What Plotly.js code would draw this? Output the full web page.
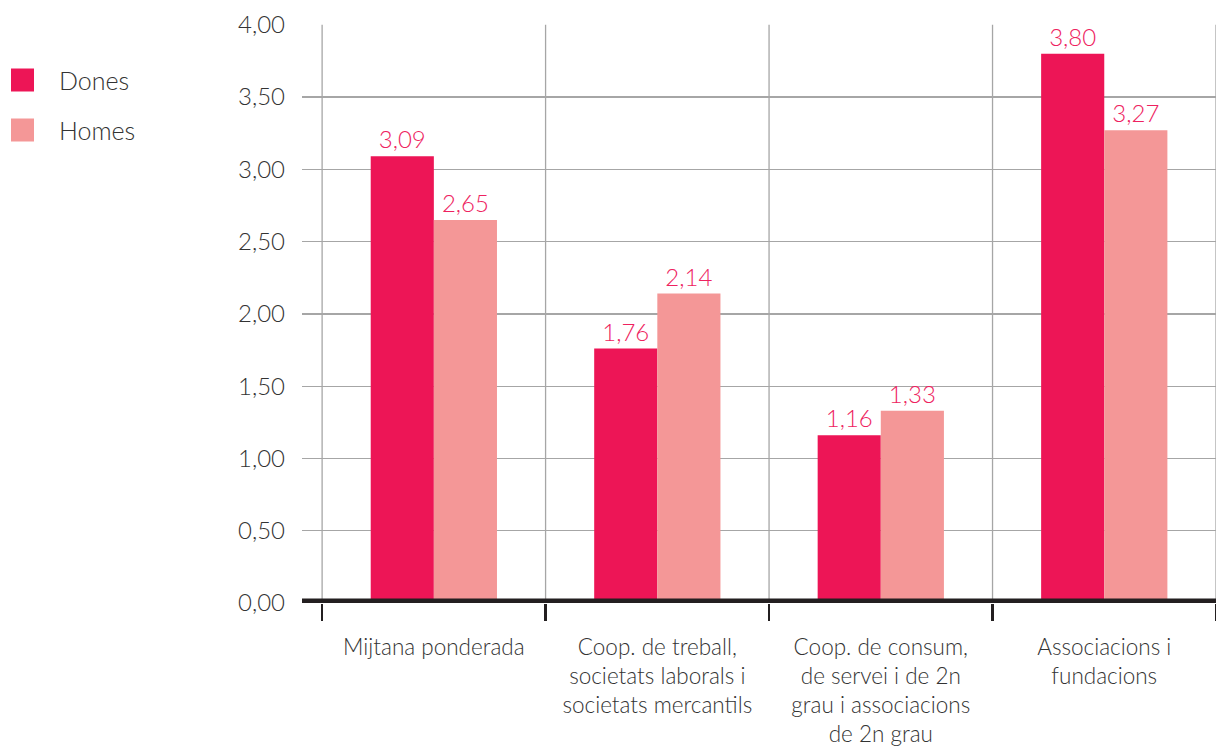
<!DOCTYPE html>
<html>
<head>
<meta charset="utf-8">
<script src="https://cdn.plot.ly/plotly-3.0.1.min.js"></script>
<style>html,body{margin:0;padding:0;background:#fff;}#chart{width:1216px;height:747px;}</style>
</head>
<body>
<div id="chart"></div>
<script>
const categories = [
  "Mijtana ponderada",
  "Coop. de treball,<br>societats laborals i<br>societats mercantils",
  "Coop. de consum,<br>de servei i de 2n<br>grau i associacions<br>de 2n grau",
  "Associacions i<br>fundacions"
];
const seriesNames = ["Dones", "Homes"];
const dones = [3.09, 1.76, 1.16, 3.80];
const homes = [2.65, 2.14, 1.33, 3.27];
const yTicks = [0, 0.5, 1, 1.5, 2, 2.5, 3, 3.5, 4];

const colors = ["#ED1556", "#F49797"];
const labelColor = "#EE2260";
const fontFam = "Lato, 'Open Sans', sans-serif";

const fmt = v => v.toFixed(2).replace(".", ",");

const traces = [dones, homes].map((vals, i) => ({
  type: "bar",
  name: seriesNames[i],
  x: categories,
  y: vals,
  marker: {color: colors[i], line: {width: 0}},
  text: vals.map(fmt),
  textposition: "outside",
  textfont: {family: fontFam, size: 24, color: labelColor, weight: 300},
  cliponaxis: false,
  showlegend: false,
  hoverinfo: "skip"
}));

const shapes = [];
// vertical separators
for (let k = 0; k <= categories.length; k++) {
  shapes.push({type: "line", xref: "x", yref: "y", x0: k - 0.5, x1: k - 0.5, y0: 0, y1: 4,
    line: {color: "#a6a6a6", width: 1.3}, layer: "below"});
}
// thick baseline
shapes.push({type: "line", xref: "paper", yref: "y", x0: 0, x1: 1, y0: 0, y1: 0,
  line: {color: "#231f20", width: 9}, layer: "above"});

// manual legend
const annotations = [];
seriesNames.forEach((n, i) => {
  const cy = 80 + i * 50;
  shapes.push({type: "rect", xref: "paper", yref: "paper", xsizemode: "pixel", ysizemode: "pixel",
    xanchor: 0, yanchor: 1, x0: -291, x1: -268, y0: -(cy - 24 - 11.5), y1: -(cy - 24 + 11.5),
    fillcolor: colors[i], line: {width: 0}});
  annotations.push({xref: "paper", yref: "paper", x: 0, y: 1, xanchor: "left", yanchor: "middle",
    xshift: -245, yshift: -(cy - 24), showarrow: false, text: n,
    font: {family: fontFam, size: 25, color: "#333333", weight: 300}});
});

const layout = {
  width: 1216, height: 747,
  margin: {l: 302, r: 0, t: 24, b: 144},
  paper_bgcolor: "#ffffff", plot_bgcolor: "#ffffff",
  separators: ",.",
  barmode: "group",
  bargap: 0.435,
  bargroupgap: 0,
  font: {family: fontFam, size: 22, color: "#333333", weight: 300},
  xaxis: {
    type: "category",
    range: [-0.59, 3.5],
    tickson: "boundaries",
    ticks: "outside", ticklen: 17, tickwidth: 2.5, tickcolor: "#231f20",
    showgrid: false, zeroline: false, showline: false,
    tickfont: {family: fontFam, size: 22.5, color: "#333333", weight: 300},
    ticklabelstandoff: 28
  },
  yaxis: {
    range: [0, 4.005],
    tickvals: yTicks,
    ticktext: yTicks.map(fmt),
    showgrid: true, gridcolor: "#a6a6a6", gridwidth: 1.3,
    zeroline: false, showline: false, ticks: "",
    tickfont: {family: fontFam, size: 24, color: "#333333", weight: 300},
    ticklabelstandoff: 16
  },
  shapes: shapes,
  annotations: annotations
};

Plotly.newPlot("chart", traces, layout, {displayModeBar: false, staticPlot: true});
</script>
</body>
</html>
